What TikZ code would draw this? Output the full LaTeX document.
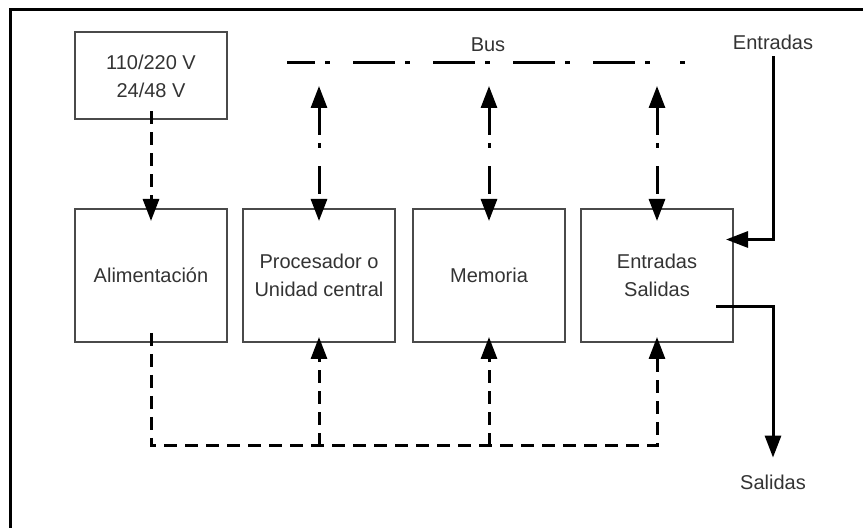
\documentclass[tikz,border=0pt]{standalone}
\usepackage{fontspec}
\setmainfont{Liberation Sans}
\usepackage{tikz}
\usetikzlibrary{positioning, arrows.meta, calc}
\definecolor{boxGray}{HTML}{4A4A4A}
\definecolor{txtGray}{HTML}{333333}

\begin{document}
\begin{tikzpicture}[
  x=0.5pt, y=-0.5pt,
  box/.style={draw=boxGray, line width=1pt,
              minimum width=76pt, minimum height=66.5pt,
              font=\fontsize{10}{14}\selectfont, text=txtGray, align=center},
  lbl/.style={font=\fontsize{10}{14}\selectfont, text=txtGray},
  tip/.style={-{Triangle[length=11pt,width=8pt]}},
  dashline/.style={line width=1.5pt, dash pattern=on 6.5pt off 4pt},
  busline/.style={line width=1.5pt, dash pattern=on 21pt off 5pt on 2.5pt off 11.5pt, dash phase=7pt},
  busarrow/.style={line width=1.5pt, dash pattern=on 14pt off 4pt on 2.5pt off 9pt,
                   {Triangle[length=11pt,width=8pt]}-{Triangle[length=11pt,width=8pt]}},
  sig/.style={line width=1.5pt, tip}
]
\useasboundingbox (0,0) rectangle (863,528);
\draw[line width=1.5pt] (10,528) -- (10,10) -- (863,10);

% blocks
\node[box, minimum height=43.5pt] (power) at (151,76) {110/220 V\\24/48 V};
\node[box] (alim) at (151,275.5) {Alimentación};
\node[box] (proc) at (319,275.5) {Procesador o\\Unidad central};
\node[box] (mem)  at (489,275.5) {Memoria};
\node[box] (es)   at (657,275.5) {Entradas\\Salidas};

% labels
\node[lbl] (bus) at (488,45) {Bus};
\node[lbl] (ent) at (773,42) {Entradas};
\node[lbl] (sal) at (773,482) {Salidas};

% bus
\coordinate (busL) at (287,63);
\coordinate (busM) at (652,63);
\coordinate (busE) at (680,63);
\coordinate (busR) at (685,63);
\draw[busline] (busL) -- (busM) (busE) -- (busR);
\coordinate (b1) at (319,86);
\coordinate (b2) at (489,86);
\coordinate (b3) at (657,86);
\draw[busarrow, shorten >=-6.5pt] (b1) -- (proc.north);
\draw[busarrow, shorten >=-6.5pt] (b2) -- (mem.north);
\draw[busarrow, shorten >=-6.5pt] (b3) -- (es.north);

% power supply
\draw[dashline, tip, shorten <=-4.5pt, shorten >=-6.5pt] (power.south) -- (alim.north);
\coordinate (ret) at (657,446);
\draw[dashline, tip, shorten >=-3pt] ([yshift=5pt]alim.south) |- (ret) -- (es.south);
\draw[dashline, tip, shorten >=-3pt] (proc.south |- ret) -- (proc.south);
\draw[dashline, tip, shorten >=-3pt] (mem.south |- ret) -- (mem.south);

% inputs / outputs
\draw[sig] (ent.south) |- ([xshift=-4pt,yshift=18pt]es.east);
\draw[sig] ([xshift=-9pt,yshift=-15.75pt]es.east) -| ([yshift=5pt]sal.north);
\end{tikzpicture}
\end{document}
